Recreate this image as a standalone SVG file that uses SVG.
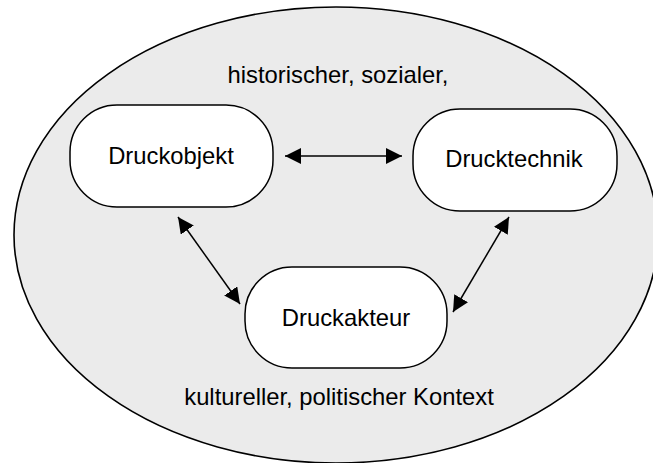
<svg xmlns="http://www.w3.org/2000/svg" width="653" height="463" viewBox="0 0 653 463">
<defs>
<marker id="ah" viewBox="0 0 16 16" refX="16" refY="8" markerWidth="16" markerHeight="16" markerUnits="userSpaceOnUse" orient="auto-start-reverse">
<path d="M0,0 L16,8 L0,16 Z" fill="#000"/>
</marker>
<style>
.node rect{fill:#fff;stroke:#000;stroke-width:1.5}
text{font-family:"Liberation Sans",Arial,sans-serif;font-size:23.8px;fill:#000;text-anchor:middle}
.conn line{stroke:#000;stroke-width:1.5;marker-start:url(#ah);marker-end:url(#ah)}
</style>
</defs>
<rect width="653" height="463" fill="#fff"/>
<g id="context">
<ellipse cx="336" cy="235" rx="322" ry="228" fill="#ebebeb" stroke="#000" stroke-width="1.6"/>
<text x="338" y="83">historischer, sozialer,</text>
<text x="339" y="405">kultureller, politischer Kontext</text>
</g>
<g id="druckobjekt" class="node">
<rect x="70" y="105" width="203" height="102" rx="47" ry="47"/>
<text x="171" y="164">Druckobjekt</text>
</g>
<g id="drucktechnik" class="node">
<rect x="413" y="109" width="204" height="102" rx="47" ry="47"/>
<text x="514" y="167">Drucktechnik</text>
</g>
<g id="druckakteur" class="node">
<rect x="245" y="267" width="202" height="101" rx="47" ry="47"/>
<text x="346" y="326">Druckakteur</text>
</g>
<g id="connectors" class="conn">
<line x1="285" y1="156" x2="402" y2="156"/>
<line x1="178" y1="217" x2="240" y2="304"/>
<line x1="509" y1="217" x2="453" y2="312"/>
</g>
</svg>
